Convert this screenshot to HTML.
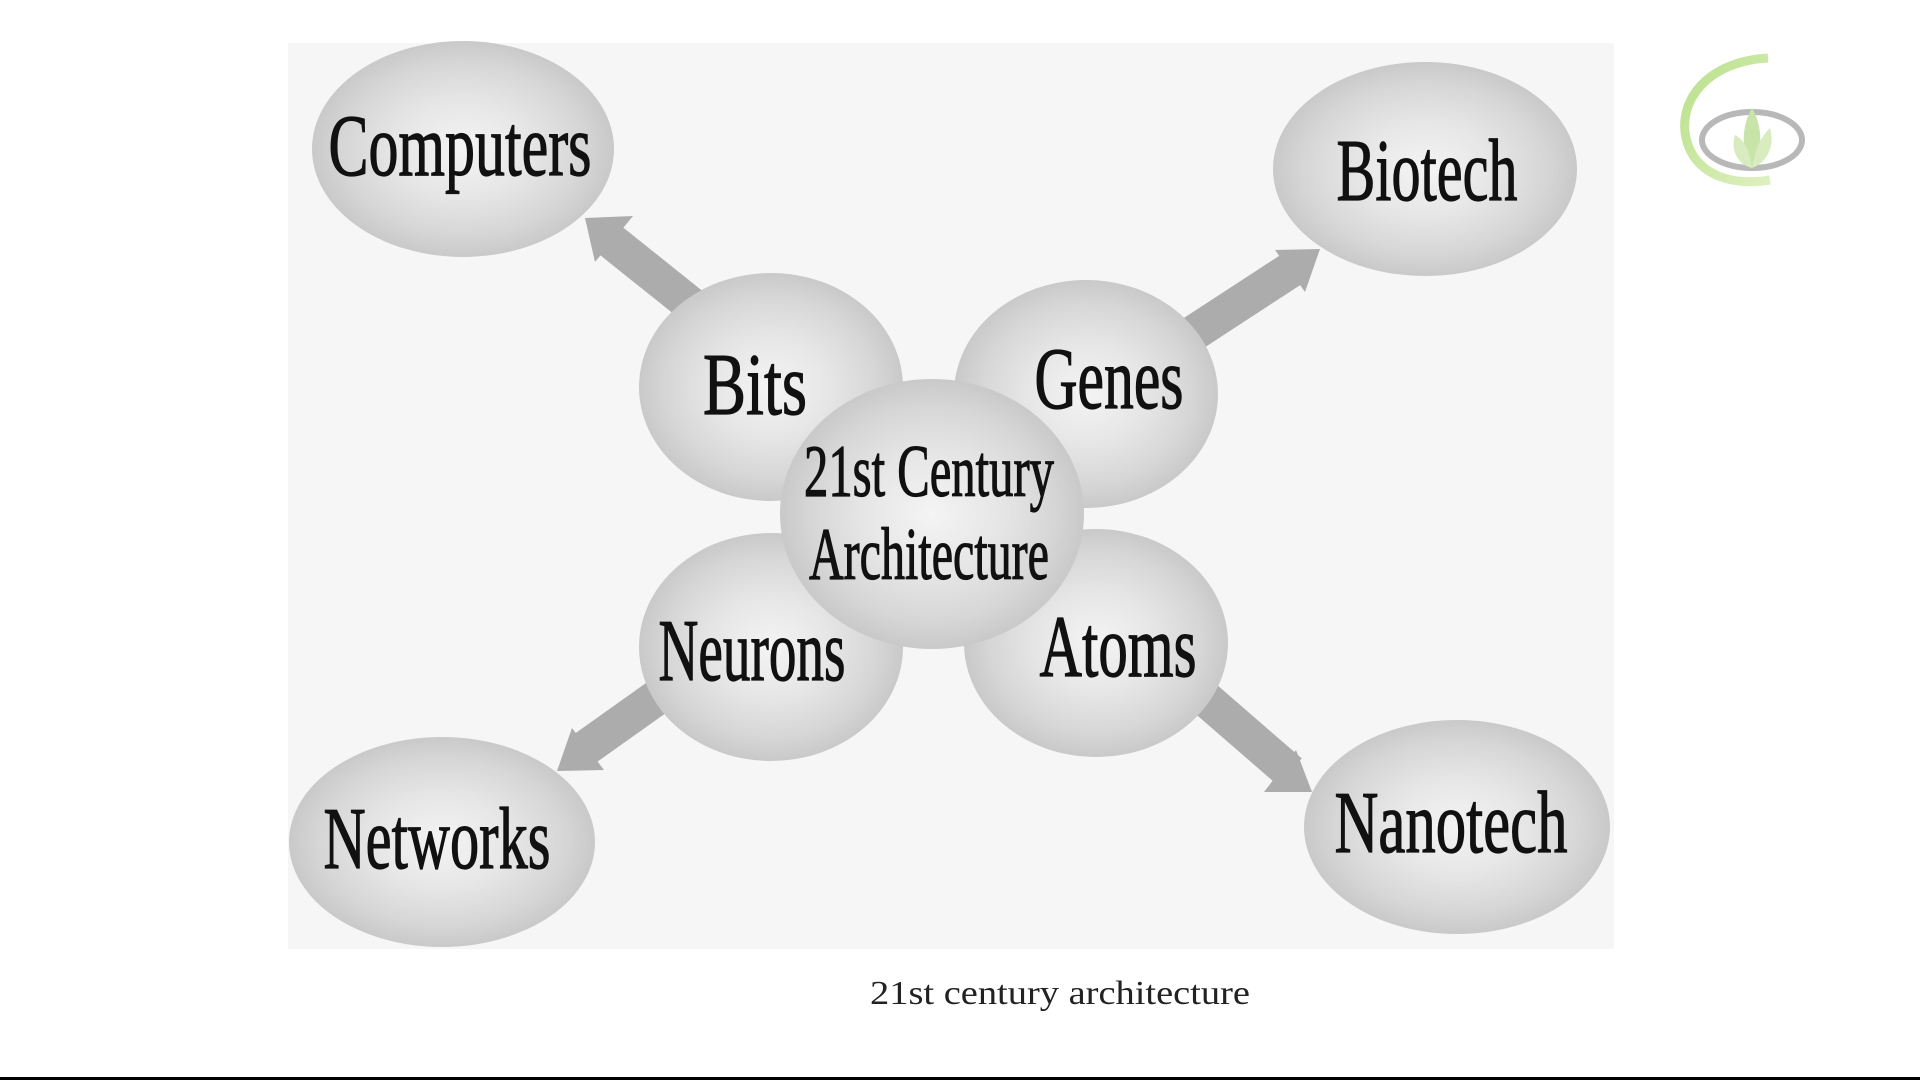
<!DOCTYPE html>
<html><head><meta charset="utf-8"><style>
html,body{margin:0;padding:0;background:#fff;width:1920px;height:1080px;overflow:hidden}
svg{display:block}
</style></head><body>
<svg width="1920" height="1080" viewBox="0 0 1920 1080" xmlns="http://www.w3.org/2000/svg">
<defs>
<radialGradient id="g" cx="50%" cy="50%" r="50%">
<stop offset="0" stop-color="#f4f4f4"/>
<stop offset="0.45" stop-color="#e6e6e6"/>
<stop offset="0.8" stop-color="#d6d6d6"/>
<stop offset="1" stop-color="#c9c9c9"/>
</radialGradient>
<linearGradient id="lg" x1="0" y1="0" x2="1" y2="1">
<stop offset="0" stop-color="#b8e08a"/><stop offset="1" stop-color="#dff0c0"/>
</linearGradient>
</defs>
<rect x="288" y="43" width="1326" height="906" fill="#f6f6f6"/>
<g stroke="#acacac" stroke-width="36" stroke-linecap="butt">
<line x1="700" y1="312" x2="610" y2="240"/>
<line x1="1180" y1="342" x2="1295" y2="267"/>
<line x1="670" y1="688" x2="580" y2="752"/>
<line x1="1200" y1="694" x2="1290" y2="772"/>
</g>
<g fill="#acacac">
<polygon points="585,218 633,216 595,262"/>
<polygon points="1320,249 1275,250 1305,292"/>
<polygon points="557,771 604,770 572,728"/>
<polygon points="1312,792 1264,792 1296,750"/>
</g>
<g fill="url(#g)">
<ellipse cx="463" cy="149" rx="151" ry="108"/>
<ellipse cx="1425" cy="169" rx="152" ry="107"/>
<ellipse cx="442" cy="842" rx="153" ry="105"/>
<ellipse cx="1457" cy="827" rx="153" ry="107"/>
<ellipse cx="771" cy="387" rx="132" ry="114"/>
<ellipse cx="1086" cy="394" rx="132" ry="114"/>
<ellipse cx="771" cy="647" rx="132" ry="114"/>
<ellipse cx="1096" cy="643" rx="132" ry="114"/>
<ellipse cx="932" cy="514" rx="152" ry="135"/>
</g>
<g font-family="Liberation Serif, serif" fill="#111" stroke="#111" stroke-width="1.2" text-anchor="middle" font-size="88">
<text x="460" y="175" textLength="263" lengthAdjust="spacingAndGlyphs">Computers</text>
<text x="1427" y="200" textLength="181" lengthAdjust="spacingAndGlyphs">Biotech</text>
<text x="437" y="868" textLength="227" lengthAdjust="spacingAndGlyphs">Networks</text>
<text x="1451" y="852" textLength="233" lengthAdjust="spacingAndGlyphs">Nanotech</text>
<text x="755" y="414" textLength="104" lengthAdjust="spacingAndGlyphs">Bits</text>
<text x="1109" y="408" textLength="149" lengthAdjust="spacingAndGlyphs">Genes</text>
<text x="752" y="680" textLength="187" lengthAdjust="spacingAndGlyphs">Neurons</text>
<text x="1118" y="676" textLength="157" lengthAdjust="spacingAndGlyphs">Atoms</text>
<text x="929" y="496" font-size="74" textLength="250" lengthAdjust="spacingAndGlyphs">21st Century</text>
<text x="929" y="579" font-size="74" textLength="240" lengthAdjust="spacingAndGlyphs">Architecture</text>
</g>
<text x="1060" y="1004" font-family="Liberation Serif, serif" text-anchor="middle" font-size="34" fill="#222" textLength="380" lengthAdjust="spacingAndGlyphs">21st century architecture</text>
<g>
<path d="M1768,58 C1700,62 1672,110 1690,150 C1705,180 1740,185 1770,180" fill="none" stroke="url(#lg)" stroke-width="9"/>
<ellipse cx="1752" cy="140" rx="50" ry="28" fill="none" stroke="#b8b8b8" stroke-width="6"/>
<path d="M1752,108 C1742,125 1740,150 1752,168 C1764,150 1762,125 1752,108Z" fill="#c8e4a8"/>
<path d="M1735,135 C1730,150 1738,165 1752,168 C1750,152 1745,140 1735,135Z" fill="#d8ecc0"/>
<path d="M1770,128 C1775,145 1768,162 1752,168 C1755,150 1760,138 1770,128Z" fill="#d8ecc0"/>
</g>
<rect x="0" y="1077" width="1920" height="3" fill="#000"/>
</svg>
</body></html>
